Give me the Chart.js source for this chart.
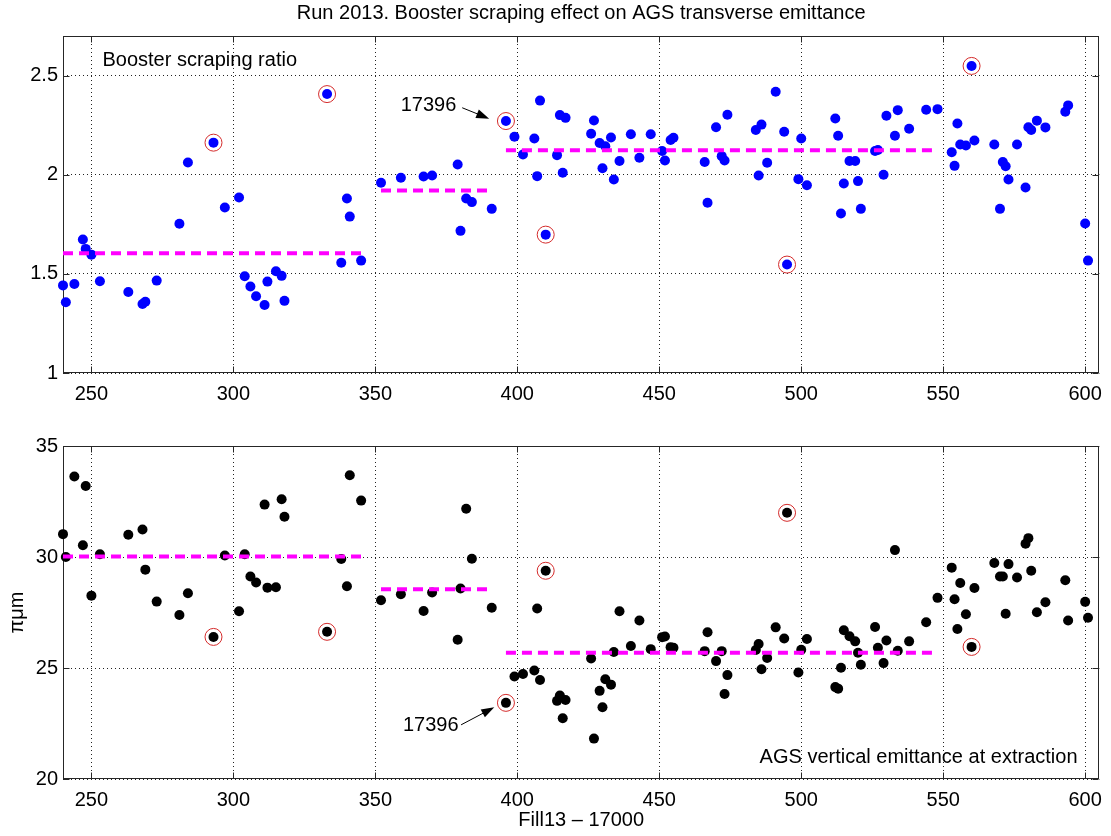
<!DOCTYPE html>
<html>
<head>
<meta charset="utf-8">
<title>Run 2013. Booster scraping effect on AGS transverse emittance</title>
<script src="https://cdn.jsdelivr.net/npm/chart.js@4.4.1/dist/chart.umd.min.js"></script>
<style>
  body { margin: 0; background: #fff; }
  #wrap { position: relative; width: 1111px; height: 836px; }
  canvas { position: absolute; left: 0; }
  #top { top: 0; }
  #bottom { top: 410px; }
</style>
</head>
<body>
<div id="wrap">
  <canvas id="top" width="1111" height="410"></canvas>
  <canvas id="bottom" width="1111" height="426"></canvas>
</div>
<script>
// fill number - 17000
const fills = [
  240, 241, 244, 247, 248, 250, 253, 263, 268, 269, 273, 281, 284, 293, 297, 302, 304, 306, 308, 311,
  312, 315, 317, 318, 333, 338, 340, 341, 345, 352, 359, 367, 370, 379, 380, 382, 384, 391, 396, 399,
  402, 406, 407, 408, 410, 414, 415, 416, 417, 426, 427, 429, 430, 431, 433, 434, 436, 440, 443, 447,
  451, 452, 454, 455, 466, 467, 470, 472, 473, 474, 484, 485, 486, 488, 491, 494, 495, 499, 500, 502,
  512, 513, 514, 515, 517, 519, 520, 521, 526, 527, 529, 530, 533, 534, 538, 544, 548, 553, 554, 555,
  556, 558, 560, 561, 568, 570, 571, 572, 573, 576, 579, 580, 581, 583, 586, 593, 594, 600, 601
];
// booster scraping ratio
const ratio = [
  1.442, 1.357, 1.449, 1.673, 1.626, 1.597, 1.463, 1.409, 1.348, 1.359, 1.466, 1.753, 2.062, 2.162, 1.835, 1.885, 1.488, 1.436, 1.387, 1.343,
  1.461, 1.513, 1.490, 1.364, 2.407, 1.556, 1.880, 1.789, 1.567, 1.960, 1.985, 1.991, 1.996, 2.052, 1.717, 1.880, 1.862, 1.828, 2.271, 2.192,
  2.102, 2.183, 1.993, 2.374, 1.698, 2.099, 2.301, 2.010, 2.287, 2.207, 2.274, 2.160, 2.033, 2.144, 2.188, 1.976, 2.069, 2.204, 2.086, 2.204,
  2.120, 2.072, 2.175, 2.187, 2.064, 1.859, 2.240, 2.094, 2.072, 2.303, 2.226, 1.996, 2.253, 2.061, 2.419, 2.217, 1.547, 1.978, 2.183, 1.947,
  2.284, 2.197, 1.805, 1.956, 2.069, 2.069, 1.968, 1.828, 2.120, 2.125, 2.000, 2.298, 2.197, 2.326, 2.232, 2.328, 2.331, 2.114, 2.045, 2.259,
  2.153, 2.148, 2.549, 2.173, 2.153, 1.828, 2.064, 2.043, 1.976, 2.153, 1.936, 2.240, 2.226, 2.273, 2.239, 2.318, 2.350, 1.754, 1.567
];
// AGS vertical emittance at extraction, pi um
const emittance = [
  31.03, 30.00, 33.63, 30.53, 33.20, 28.26, 30.12, 31.00, 31.24, 29.43, 27.99, 27.39, 28.37, 26.40, 30.07, 27.56, 30.12, 29.12, 28.85, 32.36,
  28.62, 28.64, 32.60, 31.81, 26.63, 29.91, 28.68, 33.68, 32.54, 28.05, 28.32, 27.57, 28.40, 26.27, 28.58, 32.17, 29.92, 27.71, 23.43, 24.62,
  24.73, 24.89, 27.68, 24.46, 29.38, 23.52, 23.76, 22.74, 23.56, 25.43, 21.82, 23.97, 23.23, 24.49, 24.25, 25.72, 27.56, 25.99, 27.14, 25.85,
  26.39, 26.42, 25.94, 25.91, 25.76, 26.61, 25.31, 25.76, 23.83, 24.68, 25.81, 26.08, 24.94, 25.45, 26.83, 26.33, 31.99, 24.80, 25.82, 26.31,
  24.14, 24.07, 25.01, 26.70, 26.43, 26.20, 25.69, 25.15, 26.85, 25.91, 25.22, 26.24, 30.31, 25.78, 26.20, 27.06, 28.16, 29.52, 28.10, 26.76,
  28.83, 27.42, 25.95, 28.60, 29.73, 29.12, 29.12, 27.44, 29.68, 29.08, 30.60, 30.85, 29.38, 27.51, 27.96, 28.95, 27.14, 27.98, 27.26
];
// fills marked with a red ring
const circled = [293, 333, 396, 410, 495, 560];
// mean level per period: first fill, last fill, value
const ratioMeans = [[240, 345, 1.604], [352, 391, 1.921], [396, 548, 2.124]];
const emitMeans = [[240, 345, 30.02], [352, 391, 28.55], [396, 548, 25.69]];
// tick labels
const xTicks = [250, 300, 350, 400, 450, 500, 550, 600];
const ratioTicks = [1, 1.5, 2, 2.5];
const emitTicks = [20, 25, 30, 35];

const font = "'Liberation Sans', Arial, Helvetica, sans-serif";
Chart.defaults.font.family = font;
Chart.defaults.font.size = 20;
Chart.defaults.color = '#000';

// axes box with inward tick marks, like matlab
const frame = {
  id: 'frame',
  beforeDatasetsDraw(chart) {
    const { ctx, chartArea: a, scales: { x, y } } = chart;
    const l = Math.round(a.left) + 0.5, r = Math.round(a.right) - 0.5;
    const t = Math.round(a.top) + 0.5, b = Math.round(a.bottom) - 0.5;
    ctx.save();
    ctx.strokeStyle = '#262626';
    ctx.lineWidth = 1;
    ctx.beginPath();
    x.ticks.forEach((tk) => {
      const px = Math.round(x.getPixelForValue(tk.value)) + 0.5;
      ctx.moveTo(px, b); ctx.lineTo(px, b - 6);
      ctx.moveTo(px, t); ctx.lineTo(px, t + 6);
    });
    y.ticks.forEach((tk) => {
      const py = Math.round(y.getPixelForValue(tk.value)) + 0.5;
      ctx.moveTo(l, py); ctx.lineTo(l + 6, py);
      ctx.moveTo(r, py); ctx.lineTo(r - 6, py);
    });
    ctx.stroke();
    ctx.strokeRect(l, t, r - l, b - t);
    ctx.restore();
  }
};

// title centred over the plot area (not the whole canvas)
function heading(text) {
  return {
    id: 'heading',
    afterDraw(chart) {
      const { ctx, chartArea: a } = chart;
      ctx.save();
      ctx.fillStyle = '#000';
      ctx.font = '20px ' + font;
      ctx.textAlign = 'center';
      ctx.textBaseline = 'middle';
      ctx.fillText(text, (a.left + a.right) / 2, 13);
      ctx.restore();
    }
  };
}

// text labels and arrows, placed in data coordinates
function notes(texts, arrows) {
  return {
    id: 'notes',
    afterDatasetsDraw(chart) {
      const { ctx, scales: { x, y } } = chart;
      ctx.save();
      ctx.fillStyle = '#000';
      ctx.strokeStyle = '#000';
      ctx.lineWidth = 1;
      ctx.font = '20px ' + font;
      ctx.textBaseline = 'middle';
      texts.forEach((t) => {
        ctx.textAlign = t.align;
        ctx.fillText(t.text, x.getPixelForValue(t.x), y.getPixelForValue(t.y));
      });
      arrows.forEach(([x0, y0, x1, y1]) => {
        const ax = x.getPixelForValue(x0), ay = y.getPixelForValue(y0);
        const bx = x.getPixelForValue(x1), by = y.getPixelForValue(y1);
        const c = Math.cos(Math.atan2(by - ay, bx - ax));
        const s = Math.sin(Math.atan2(by - ay, bx - ax));
        ctx.beginPath();
        ctx.moveTo(ax, ay);
        ctx.lineTo(bx - 12 * c, by - 12 * s);
        ctx.stroke();
        ctx.beginPath();
        ctx.moveTo(bx, by);
        ctx.lineTo(bx - 13 * c + 4.5 * s, by - 13 * s - 4.5 * c);
        ctx.lineTo(bx - 13 * c - 4.5 * s, by - 13 * s + 4.5 * c);
        ctx.closePath();
        ctx.fill();
      });
      ctx.restore();
    }
  };
}

function points(vals) {
  return fills.map((f, i) => ({ x: f, y: vals[i] }));
}

function meanSets(means) {
  return means.map(([from, to, v]) => ({
    data: [{ x: from, y: v }, { x: to, y: v }],
    showLine: true,
    borderColor: '#ff00ff',
    borderWidth: 4,
    borderDash: [10, 6],
    pointRadius: 0,
    clip: false
  }));
}

function axis(min, max, tickList, extra) {
  return Object.assign({
    type: 'linear',
    min: min,
    max: max,
    afterBuildTicks: (s) => { s.ticks = tickList.map((v) => ({ value: v })); },
    grid: { color: '#222', lineWidth: 1, drawTicks: false },
    border: { display: false, dash: [1, 3] }
  }, extra);
}

function makeChart(id, vals, dotColor, means, yMin, yMax, yTicks, opts) {
  return new Chart(document.getElementById(id), {
    type: 'scatter',
    data: {
      datasets: [
        ...meanSets(means),
        {
          data: points(vals).filter((p) => circled.includes(p.x)),
          pointRadius: 8.5,
          pointBackgroundColor: 'rgba(0,0,0,0)',
          pointBorderColor: '#d42a2a',
          pointBorderWidth: 1,
          clip: false
        },
        {
          data: points(vals),
          pointRadius: 5,
          pointBackgroundColor: dotColor,
          pointBorderWidth: 0,
          clip: false
        }
      ]
    },
    options: {
      responsive: false,
      animation: false,
      events: [],
      layout: { padding: { left: 0, right: 11, top: 36, bottom: 0 } },
      plugins: {
        legend: { display: false },
        tooltip: { enabled: false },
        title: { display: false }
      },
      scales: {
        x: axis(240, 605, xTicks, {
          ticks: { padding: 9, callback: (v) => String(v), autoSkip: false, maxRotation: 0 },
          title: opts.xTitle,
          afterFit: (s) => { s.height = opts.xHeight; }
        }),
        y: axis(yMin, yMax, yTicks, {
          ticks: { padding: 5, callback: (v) => String(v), autoSkip: false },
          title: opts.yTitle,
          afterFit: (s) => { s.width = 63; }
        })
      }
    },
    plugins: [frame, ...opts.extra]
  });
}

makeChart('top', ratio, '#0000ff', ratioMeans, 1, 2.7, ratioTicks, {
  xTitle: { display: false },
  yTitle: { display: false },
  xHeight: 37,
  extra: [
    heading('Run 2013. Booster scraping effect on AGS transverse emittance'),
    notes(
      [
        { text: 'Booster scraping ratio', x: 253.9, y: 2.576, align: 'left' },
        { text: '17396', x: 378.5, y: 2.348, align: 'right' }
      ],
      [[380.6, 2.338, 390.1, 2.283]]
    )
  ]
});

makeChart('bottom', emittance, '#000000', emitMeans, 20, 35, emitTicks, {
  xTitle: { display: true, text: 'Fill13 \u2013 17000', font: { size: 20 }, padding: { top: 0, bottom: 4 } },
  yTitle: { display: true, text: '\u03c0\u03bcm', font: { size: 20 }, padding: { top: 5, bottom: 0 } },
  xHeight: 57,
  extra: [
    notes(
      [
        { text: '17396', x: 379.3, y: 22.42, align: 'right' },
        { text: 'AGS vertical emittance at extraction', x: 597.3, y: 20.99, align: 'right' }
      ],
      [[380.2, 22.44, 391.9, 23.23]]
    )
  ]
});
</script>
</body>
</html>
